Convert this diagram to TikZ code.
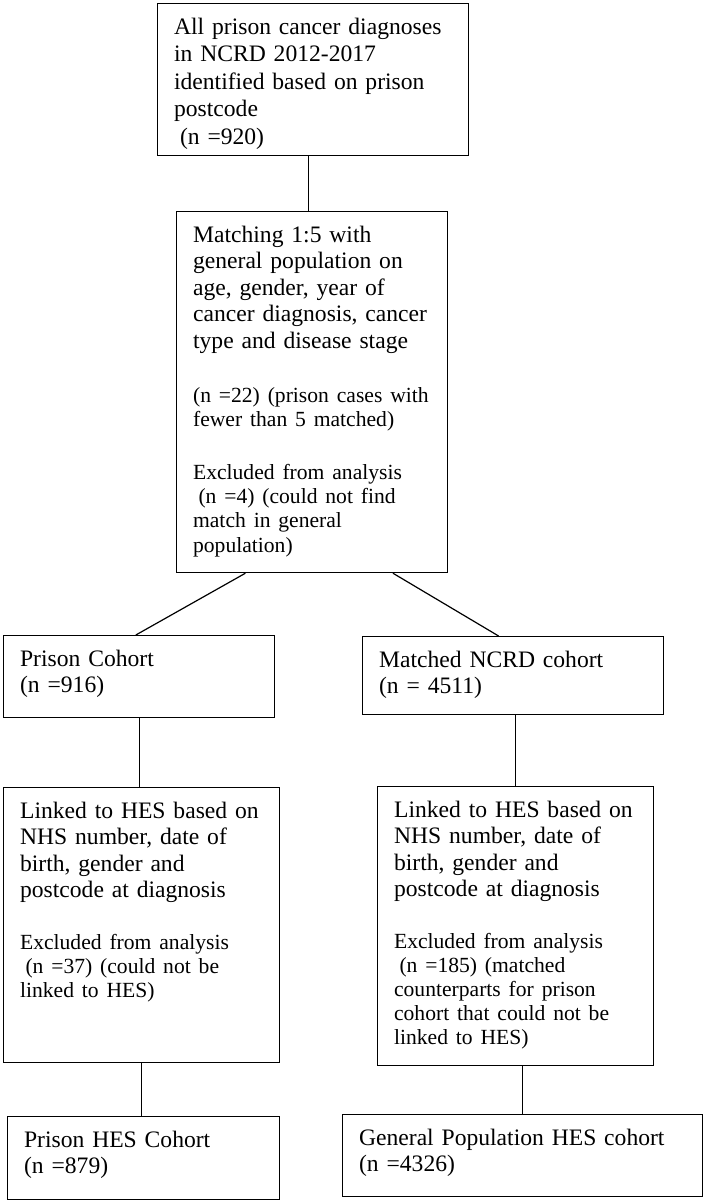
\documentclass[tikz,border=0pt]{standalone}
\usepackage{fontspec}
\setmainfont{Liberation Serif}
\usepackage{tikz}
\usetikzlibrary{calc}
\newcommand{\grand}{\fontsize{23.6pt}{26.5pt}\selectfont}
\newcommand{\petit}{\fontsize{21.6pt}{24.2pt}\selectfont}

\begin{document}
\begin{tikzpicture}[x=1pt,y=-1pt,
    boite/.style={draw, line width=1.2pt, anchor=north west, inner xsep=16.5pt, inner ysep=0pt,
        text height=30.5pt, align=left, font=\grand},
    lien/.style={line width=1.2pt}]

    % Fixer le cadre de la figure
    \useasboundingbox (0,0) rectangle (705,1202);

    % Définir les coins supérieurs gauches des cases
    \coordinate (D) at (157,3);
    \coordinate (M) at (176,211);
    \coordinate (P) at (3,635);
    \coordinate (N) at (362,636);
    \coordinate (LP) at (3,787);
    \coordinate (LN) at (377,786);
    \coordinate (HP) at (7,1116);
    \coordinate (HN) at (342,1114);

    % Dessiner les cases
    \node[boite, text width=278pt, text depth=121.5pt, font=\fontsize{23.6pt}{27.5pt}\selectfont] (diag) at (D)
        {All prison cancer diagnoses\\ in NCRD 2012-2017\\ identified based on prison\\ postcode\\ \hspace*{0.25em}(n =920)};
    \node[boite, text width=238pt, text depth=330.5pt] (match) at (M)
        {Matching 1:5 with\\ general population on\\ age, gender, year of\\ cancer diagnosis, cancer\\ type and disease stage\par
        \vspace{30pt}
        {\petit (n =22) (prison cases with\\ fewer than 5 matched)\par}
        \vspace{28.8pt}
        {\petit Excluded from analysis\\ \hspace*{0.25em}(n =4) (could not find\\ match in general\\ population)\par}};
    \node[boite, text width=238pt, text depth=51.5pt] (prison) at (P) {Prison Cohort\\ (n =916)};
    \node[boite, text width=268pt, text depth=47.5pt] (ncrd) at (N) {Matched NCRD cohort\\ (n = 4511)};
    \node[boite, text width=243pt, text depth=244.5pt] (linkP) at (LP)
        {Linked to HES based on\\ NHS number, date of\\ birth, gender and\\ postcode at diagnosis\par
        \vspace{27.3pt}
        {\petit Excluded from analysis\\ \hspace*{0.25em}(n =37) (could not be\\ linked to HES)\par}};
    \node[boite, text width=243pt, text depth=248.5pt] (linkN) at (LN)
        {Linked to HES based on\\ NHS number, date of\\ birth, gender and\\ postcode at diagnosis\par
        \vspace{27.3pt}
        {\petit Excluded from analysis\\ \hspace*{0.25em}(n =185) (matched\\ counterparts for prison\\ cohort that could not be\\ linked to HES)\par}};
    \node[boite, text width=239pt, text depth=52.5pt] (hesP) at (HP) {Prison HES Cohort\\ (n =879)};
    \node[boite, text width=327pt, text depth=51.5pt] (hesN) at (HN) {General Population HES cohort\\ (n =4326)};

    % Relier les cases
    \draw[lien] ($(diag.south west)!0.485!(diag.south east)$) coordinate (d1) -- (d1 |- match.north);
    \draw[lien] ($(match.south west)!0.255!(match.south east)$) -- ($(prison.north west)!0.488!(prison.north east)$);
    \draw[lien] ($(match.south west)!0.797!(match.south east)$) -- ($(ncrd.north west)!0.452!(ncrd.north east)$);
    \draw[lien] (prison.south) -- (prison.south |- linkP.north);
    \draw[lien] (linkN.north |- ncrd.south) -- (linkN.north);
    \draw[lien] (linkP.south) -- (linkP.south |- hesP.north);
    \draw[lien] (hesN.north |- linkN.south) -- (hesN.north);
\end{tikzpicture}
\end{document}
